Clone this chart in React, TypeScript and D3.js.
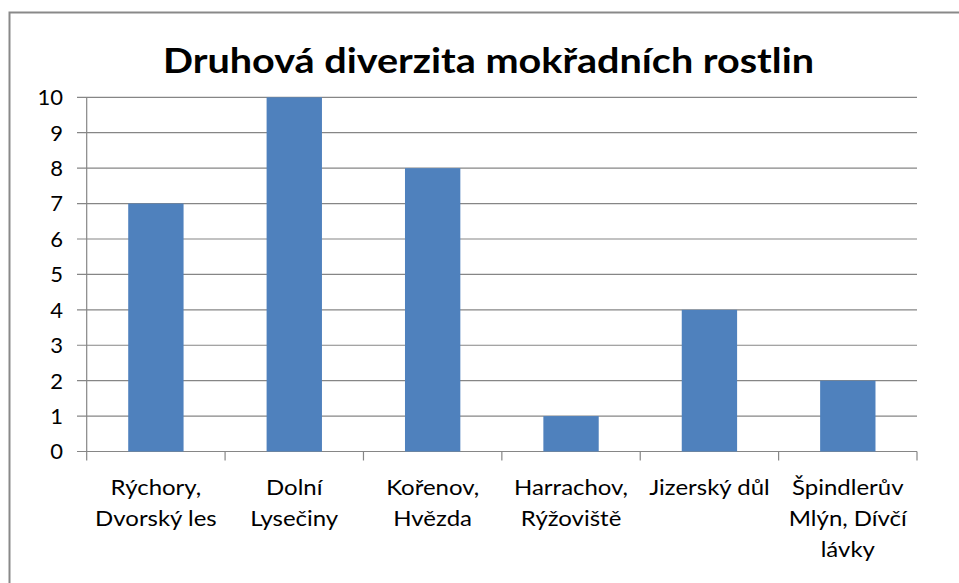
import React from "react";
import * as d3 from "d3";

const title = "Druhová diverzita mokřadních rostlin";
const categories: string[][] = [
  ["Rýchory,", "Dvorský les"],
  ["Dolní", "Lysečiny"],
  ["Kořenov,", "Hvězda"],
  ["Harrachov,", "Rýžoviště"],
  ["Jizerský důl"],
  ["Špindlerův", "Mlýn, Dívčí", "lávky"],
];
const values = [7, 10, 8, 1, 4, 2];
const yTicks = [0, 1, 2, 3, 4, 5, 6, 7, 8, 9, 10];

const W = 959;
const H = 583;
const left = 86.7;
const right = 917;
const top = 97.3;
const bottom = 451.5;
const font = "Lato, 'Open Sans', sans-serif";

export default function App() {
  const x = d3
    .scaleBand<number>()
    .domain(d3.range(categories.length))
    .range([left, right])
    .paddingInner(0.6)
    .paddingOuter(0.3);
  const xCat = d3
    .scaleBand<number>()
    .domain(d3.range(categories.length))
    .range([left, right]);
  const y = d3.scaleLinear().domain([0, 10]).range([bottom, top]);
  const grid = "#868686";

  return (
    <svg
      width={W}
      height={H}
      style={{ position: "absolute", left: 0, top: 0, background: "#fff" }}
    >
      <rect x={9.5} y={12.5} width={W} height={H} fill="#fff" stroke="#898989" strokeWidth={2} />
      <text
        x={163}
        y={73}
        textLength={651}
        lengthAdjust="spacingAndGlyphs"
        fontFamily={font}
        fontWeight="bold"
        fontSize={35}
        fill="#000"
      >
        {title}
      </text>
      {yTicks.map((t) => (
        <g key={t}>
          <line x1={77} x2={right} y1={y(t)} y2={y(t)} stroke={grid} strokeWidth={1.2} />
          <text
            x={63}
            y={y(t)}
            dy="0.36em"
            textAnchor="end"
            fontFamily={font}
            fontSize={22}
            fill="#000"
          >
            {t}
          </text>
        </g>
      ))}
      <line x1={left} x2={left} y1={top} y2={bottom} stroke={grid} strokeWidth={1.2} />
      {d3.range(categories.length + 1).map((i) => {
        const xx = i < categories.length ? xCat(i)! : right;
        return <line key={i} x1={xx} x2={xx} y1={bottom} y2={460.5} stroke={grid} strokeWidth={1.2} />;
      })}
      {values.map((v, i) => (
        <rect
          key={i}
          x={x(i)}
          y={y(v)}
          width={x.bandwidth()}
          height={y(0) - y(v)}
          fill="#4F81BD"
        />
      ))}
      {categories.map((lines, i) => {
        const cx = xCat(i)! + xCat.bandwidth() / 2;
        return (
          <g key={i} transform={`translate(${cx},0) scale(1.09,1)`}>
            <text
              x={0}
              y={495}
              textAnchor="middle"
              fontFamily={font}
              fontSize={22}
              fill="#000"
            >
              {lines.map((l, j) => (
                <tspan key={j} x={0} dy={j === 0 ? 0 : 31}>
                  {l}
                </tspan>
              ))}
            </text>
          </g>
        );
      })}
    </svg>
  );
}
